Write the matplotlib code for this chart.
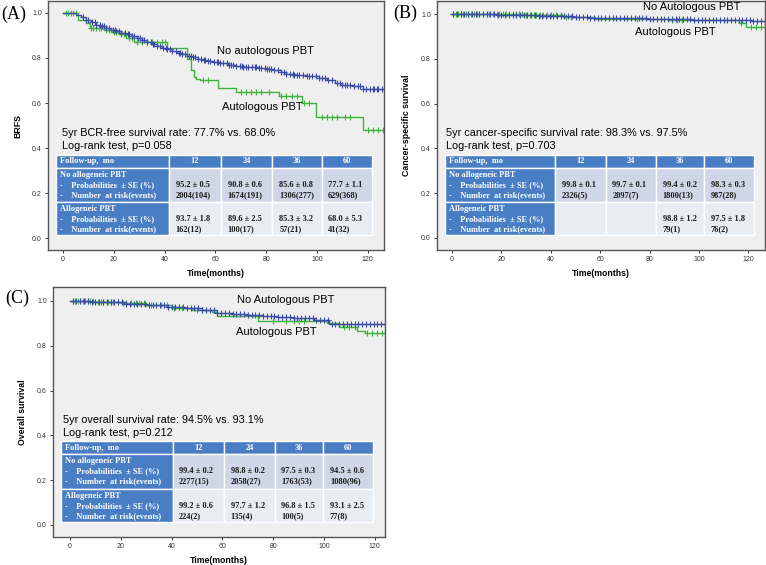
import numpy as np
import matplotlib.pyplot as plt
from matplotlib.patches import Rectangle

plt.rcParams['font.family'] = 'Liberation Sans'

BLUE = '#3A4CA6'
GREEN = '#3DB43D'
PANEL_BG = '#EFEFEF'
HEAD_BLUE = '#4A7EC4'
ROW1_BG = '#CFD7E6'
ROW2_BG = '#E8ECF3'

# ---------------- data ----------------
# (A) biochemical recurrence-free survival
a_no_t = [0, 5, 7, 9, 11, 13, 15, 17, 19, 21, 23, 25, 27, 29, 31, 33, 35, 37, 39, 41, 43,
          45, 47, 49, 51, 53, 55, 57, 59, 62, 65, 68, 71, 74, 77, 80, 83, 86, 88, 91, 96,
          101, 104, 107, 110, 114, 118]
a_no_s = [1.0, 0.99, 0.98, 0.97, 0.958, 0.948, 0.94, 0.932, 0.925, 0.918, 0.912, 0.905,
          0.896, 0.887, 0.878, 0.87, 0.861, 0.853, 0.845, 0.838, 0.831, 0.824, 0.817, 0.81,
          0.803, 0.797, 0.791, 0.786, 0.781, 0.776, 0.771, 0.766, 0.762, 0.758, 0.755, 0.752,
          0.748, 0.738, 0.73, 0.725, 0.72, 0.712, 0.703, 0.69, 0.678, 0.676, 0.66]
a_no_cens = [8, 9, 10, 11.5, 12.5, 13, 14.5, 15.5, 16, 17, 18, 19.5, 20.5, 21, 22, 23, 24.5,
             25.5, 26, 27, 28, 29.5, 30.5, 31, 32, 33, 34.5, 35.5, 36, 37, 38, 39.5, 40.5,
             41, 42, 43, 44.5, 45.5, 46, 47, 48, 49.5, 50.5, 51, 52, 53, 54.5, 55.5, 56, 57,
             58, 59.5, 60.5, 61, 62, 63, 64.5, 65.5, 66, 67, 68, 69.5, 70.5, 71, 72, 73,
             74.5, 75.5, 76, 77, 78, 79.5, 80.5, 81, 82, 83, 84.5, 86, 87, 88, 89.5, 90.5,
             91, 92, 93, 94.5, 96, 97, 98, 99.5, 101, 102, 103, 104.5, 106, 108, 109, 110,
             111, 112, 113, 114.5, 116, 117, 118, 119.5, 121, 122, 122.5, 123.5, 124, 125.5]
a_au_t = [0, 6, 9, 10.5, 16, 19, 22, 25, 28, 41, 49, 50.5, 51.5, 52.5, 54, 61, 68, 85, 94,
          99.5, 118]
a_au_s = [1.0, 0.97, 0.955, 0.935, 0.925, 0.915, 0.905, 0.89, 0.872, 0.843, 0.795, 0.748,
          0.716, 0.705, 0.70, 0.667, 0.648, 0.63, 0.60, 0.54, 0.48]
a_au_cens = [1, 2, 3, 4, 5, 11, 12, 13, 14, 15, 17, 18, 20, 21, 23, 24, 26, 27, 29, 31, 33,
             35, 37, 39, 40, 55, 57, 70, 72, 74, 76, 78, 81, 86, 88, 90, 92, 95, 97, 102,
             104, 106, 108, 111, 113, 120, 122, 124, 126]

# (B) cancer-specific survival
b_no_t = [0, 9, 18, 27, 35, 42, 49, 56, 63, 71, 79, 88, 97, 106, 115, 121]
b_no_s = [1.0, 0.998, 0.997, 0.995, 0.993, 0.99, 0.987, 0.984, 0.982, 0.98, 0.978, 0.976,
          0.974, 0.972, 0.971, 0.97]
b_no_cens = [0.5, 2, 3.5, 5, 6.5, 8, 9.5, 11, 12.5, 14, 15.5, 17, 18.5, 20, 21.5, 23, 24.5,
             26, 27.5, 29, 30.5, 32, 33.5, 35, 36.5, 38, 39.5, 41, 42.5, 44, 45.5, 47, 48.5,
             50, 51.5, 53, 54.5, 56, 57.5, 59, 60.5, 62, 63.5, 65, 66.5, 68, 69.5, 71, 72.5,
             74, 75.5, 77, 78.5, 80, 81.5, 83, 84.5, 86, 87.5, 89, 90.5, 92, 93.5, 95, 96.5,
             98, 99.5, 101, 102.5, 104, 105.5, 107, 108.5, 110, 111.5, 113, 114.5, 116, 117.5,
             119, 120.5, 122, 123.5, 125, 126.5]
b_au_t = [0, 30, 45, 58, 88, 116, 119]
b_au_s = [1.0, 0.995, 0.988, 0.978, 0.975, 0.958, 0.944]
b_au_cens = [0.5, 1.5, 2.5, 3.5, 4.5, 5.5, 6.5, 7.5, 9, 10, 11, 12.5, 14, 15, 16.5, 18, 19,
             20.5, 22, 23, 24.5, 26, 27, 28.5, 30, 31.5, 33, 34, 35.5, 37, 38.5, 40, 42, 44,
             46, 48, 75, 89, 91, 93, 117, 121, 123, 125, 126.5]

# (C) overall survival
c_no_t = [0, 8, 15, 22, 30, 38, 45, 52, 58, 64, 70, 76, 82, 88, 96, 102]
c_no_s = [1.0, 0.997, 0.994, 0.988, 0.982, 0.975, 0.967, 0.958, 0.948, 0.942, 0.937, 0.932,
          0.928, 0.924, 0.915, 0.899]
c_no_cens = [1, 2.5, 4, 5.5, 7, 8.5, 10, 11.5, 13, 14.5, 16, 17.5, 19, 20.5, 22, 23.5, 25,
             26.5, 28, 29.5, 31, 32.5, 34, 35.5, 37, 38.5, 40, 41.5, 43, 44.5, 46, 47.5, 49,
             50.5, 52, 53.5, 55, 56.5, 58, 59.5, 61, 62.5, 64, 65.5, 67, 68.5, 70, 71.5, 73,
             74.5, 76, 77.5, 79, 80.5, 82, 83.5, 85, 86.5, 88, 89.5, 91, 92.5, 94, 95.5, 97,
             98.5, 100, 101.5, 103, 104.5, 106, 107.5, 109, 110.5, 112, 113.5, 115, 116.5,
             118, 119.5, 121, 122.5, 124]
c_au_t = [0, 10, 20, 30, 40, 48, 56, 58, 74, 101, 106, 113, 116]
c_au_s = [1.0, 0.996, 0.99, 0.982, 0.97, 0.96, 0.95, 0.932, 0.912, 0.9, 0.882, 0.868, 0.856]
c_au_cens = [1, 2, 3, 4, 5, 6, 7, 8, 9, 11, 12, 13, 15, 16, 17, 19, 21, 22, 24, 26, 27, 29,
             31, 32, 34, 36, 38, 41, 44, 50, 52, 80, 85, 88, 90, 92, 108, 110, 112, 117, 119,
             121, 123, 125]

# table contents
col_heads = ['12', '24', '36', '60']
a_no_cells = [('95.2 ± 0.5', '2004(104)'), ('90.8 ± 0.6', '1674(191)'),
              ('85.6 ± 0.8', '1306(277)'), ('77.7 ± 1.1', '629(368)')]
a_au_cells = [('93.7 ± 1.8', '162(12)'), ('89.6 ± 2.5', '100(17)'),
              ('85.3 ± 3.2', '57(21)'), ('68.0 ± 5.3', '41(32)')]
b_no_cells = [('99.8 ± 0.1', '2326(5)'), ('99.7 ± 0.1', '2097(7)'),
              ('99.4 ± 0.2', '1800(13)'), ('98.3 ± 0.3', '987(28)')]
b_au_cells = [None, None, ('98.8 ± 1.2', '79(1)'), ('97.5 ± 1.8', '76(2)')]
c_no_cells = [('99.4 ± 0.2', '2277(15)'), ('98.8 ± 0.2', '2058(27)'),
              ('97.5 ± 0.3', '1763(53)'), ('94.5 ± 0.6', '1080(96)')]
c_au_cells = [('99.2 ± 0.6', '224(2)'), ('97.7 ± 1.2', '135(4)'),
              ('96.8 ± 1.5', '100(5)'), ('93.1 ± 2.5', '77(8)')]


def step_value(times, surv, t):
    idx = np.searchsorted(times, t, side='right') - 1
    return np.asarray(surv)[idx]


def km(ax, times, surv, cens, end, color):
    ax.step(list(times) + [end], list(surv) + [surv[-1]], where='post', color=color, lw=1.0)
    ax.plot(cens, step_value(times, surv, cens), '+', color=color, ms=4.5, mew=0.8,
            linestyle='none')


col_edges = [0.025, 0.36, 0.515, 0.668, 0.814, 0.965]
row_edges = [0.383, 0.33, 0.193, 0.06]


def draw_table(ax, no_cells, au_cells):
    tr = ax.transAxes
    hpx = ax.get_position().height * 565  # axes height in px
    lin = lambda p: p / hpx
    tfont = dict(family='Liberation Serif', weight='bold', fontsize=6, transform=tr)
    # header row
    for i in range(5):
        x0, x1 = col_edges[i], col_edges[i + 1]
        ax.add_patch(Rectangle((x0, row_edges[1]), x1 - x0, row_edges[0] - row_edges[1],
                               transform=tr, fc=HEAD_BLUE, ec='white', lw=1.0, zorder=5))
    ymid = (row_edges[0] + row_edges[1]) / 2
    ax.text(col_edges[0] + 0.012, ymid, 'Follow-up,  mo', color='white', ha='left',
            va='center', zorder=6, **tfont)
    for i, h in enumerate(col_heads):
        ax.text((col_edges[i + 1] + col_edges[i + 2]) / 2, ymid, h, color='white',
                ha='center', va='center', zorder=6, **tfont)
    groups = [('No allogeneic PBT', no_cells, ROW1_BG), ('Allogeneic PBT', au_cells, ROW2_BG)]
    for r, (name, cells, bg) in enumerate(groups):
        top, bot = row_edges[r + 1], row_edges[r + 2]
        ax.add_patch(Rectangle((col_edges[0], bot), col_edges[1] - col_edges[0], top - bot,
                               transform=tr, fc=HEAD_BLUE, ec='white', lw=1.0, zorder=5))
        lines = [name, '-    Probabilities  ± SE (%)', '-    Number  at risk(events)']
        for k, s in enumerate(lines):
            ax.text(col_edges[0] + 0.012, top - lin(7 + 10 * k), s, color='white', ha='left',
                    va='center', zorder=6, **tfont)
        for i in range(4):
            x0, x1 = col_edges[i + 1], col_edges[i + 2]
            ax.add_patch(Rectangle((x0, bot), x1 - x0, top - bot, transform=tr, fc=bg,
                                   ec='white', lw=1.0, zorder=5))
            if cells[i] is None:
                continue
            for k, s in enumerate(cells[i]):
                ax.text(x0 + 0.02, top - lin(17 + 10 * k), s, color='#1a1a1a', ha='left',
                        va='center', zorder=6, **tfont)


def style_axes(ax, xlim, ylim, ylabel):
    ax.set_facecolor(PANEL_BG)
    ax.set_xlim(*xlim)
    ax.set_ylim(*ylim)
    ax.set_xticks([0, 20, 40, 60, 80, 100, 120])
    ax.set_yticks([0.0, 0.2, 0.4, 0.6, 0.8, 1.0])
    ax.set_yticklabels(['0.0', '0.2', '0.4', '0.6', '0.8', '1.0'])
    ax.tick_params(direction='out', length=2.5, width=0.7, labelsize=5, colors='#333333',
                   pad=2)
    for sp in ax.spines.values():
        sp.set_color('#555555')
        sp.set_linewidth(1.0)
    ax.set_xlabel('Time(months)', fontsize=6.3, fontweight='bold', labelpad=4)
    ax.set_ylabel(ylabel, fontsize=6.3, fontweight='bold', labelpad=7)


fig = plt.figure(figsize=(7.66, 5.65), dpi=100)

# ---- (A) ----
axA = fig.add_axes([0.0627, 0.5575, 0.4386, 0.4407])
style_axes(axA, (-5.9, 126.4), (-0.053, 1.053), 'BRFS')
km(axA, a_au_t, a_au_s, a_au_cens, 126.4, GREEN)
km(axA, a_no_t, a_no_s, a_no_cens, 126.4, BLUE)
axA.text(60.6, 0.83, 'No autologous PBT', fontsize=8, va='center')
axA.text(62.6, 0.582, 'Autologous PBT', fontsize=8, va='center')
axA.text(0.042, 0.47, '5yr BCR-free survival rate: 77.7% vs. 68.0%', fontsize=7.8,
         va='center', transform=axA.transAxes)
axA.text(0.042, 0.418, 'Log-rank test, p=0.058', fontsize=7.8, va='center',
         transform=axA.transAxes)
draw_table(axA, a_no_cells, a_au_cells)

# ---- (B) ----
axB = fig.add_axes([0.5705, 0.5575, 0.4282, 0.4407])
style_axes(axB, (-6.1, 126.7), (-0.054, 1.058), 'Cancer-specific survival')
km(axB, b_au_t, b_au_s, b_au_cens, 126.7, GREEN)
km(axB, b_no_t, b_no_s, b_no_cens, 126.7, BLUE)
axB.text(77.3, 1.03, 'No Autologous PBT', fontsize=8, va='center')
axB.text(74, 0.92, 'Autologous PBT', fontsize=8, va='center')
axB.text(0.027, 0.47, '5yr cancer-specific survival rate: 98.3% vs. 97.5%', fontsize=7.8,
         va='center', transform=axB.transAxes)
axB.text(0.027, 0.418, 'Log-rank test, p=0.703', fontsize=7.8, va='center',
         transform=axB.transAxes)
draw_table(axB, b_no_cells, b_au_cells)

# ---- (C) ----
axC = fig.add_axes([0.0692, 0.0496, 0.4334, 0.4425])
style_axes(axC, (-6.7, 124), (-0.054, 1.0625), 'Overall survival')
km(axC, c_au_t, c_au_s, c_au_cens, 124, GREEN)
km(axC, c_no_t, c_no_s, c_no_cens, 124, BLUE)
axC.text(65.7, 1.004, 'No Autologous PBT', fontsize=8, va='center')
axC.text(65.4, 0.862, 'Autologous PBT', fontsize=8, va='center')
axC.text(0.03, 0.468, '5yr overall survival rate: 94.5% vs. 93.1%', fontsize=7.8,
         va='center', transform=axC.transAxes)
axC.text(0.03, 0.416, 'Log-rank test, p=0.212', fontsize=7.8, va='center',
         transform=axC.transAxes)
draw_table(axC, c_no_cells, c_au_cells)

# panel letters
fig.text(1 / 766, 1 - 14 / 565, '(A)', family='Liberation Serif', fontsize=13, va='center')
fig.text(393 / 766, 1 - 13 / 565, '(B)', family='Liberation Serif', fontsize=13, va='center')
fig.text(5 / 766, 1 - 298 / 565, '(C)', family='Liberation Serif', fontsize=13, va='center')

fig.savefig('out.png', dpi=100)
